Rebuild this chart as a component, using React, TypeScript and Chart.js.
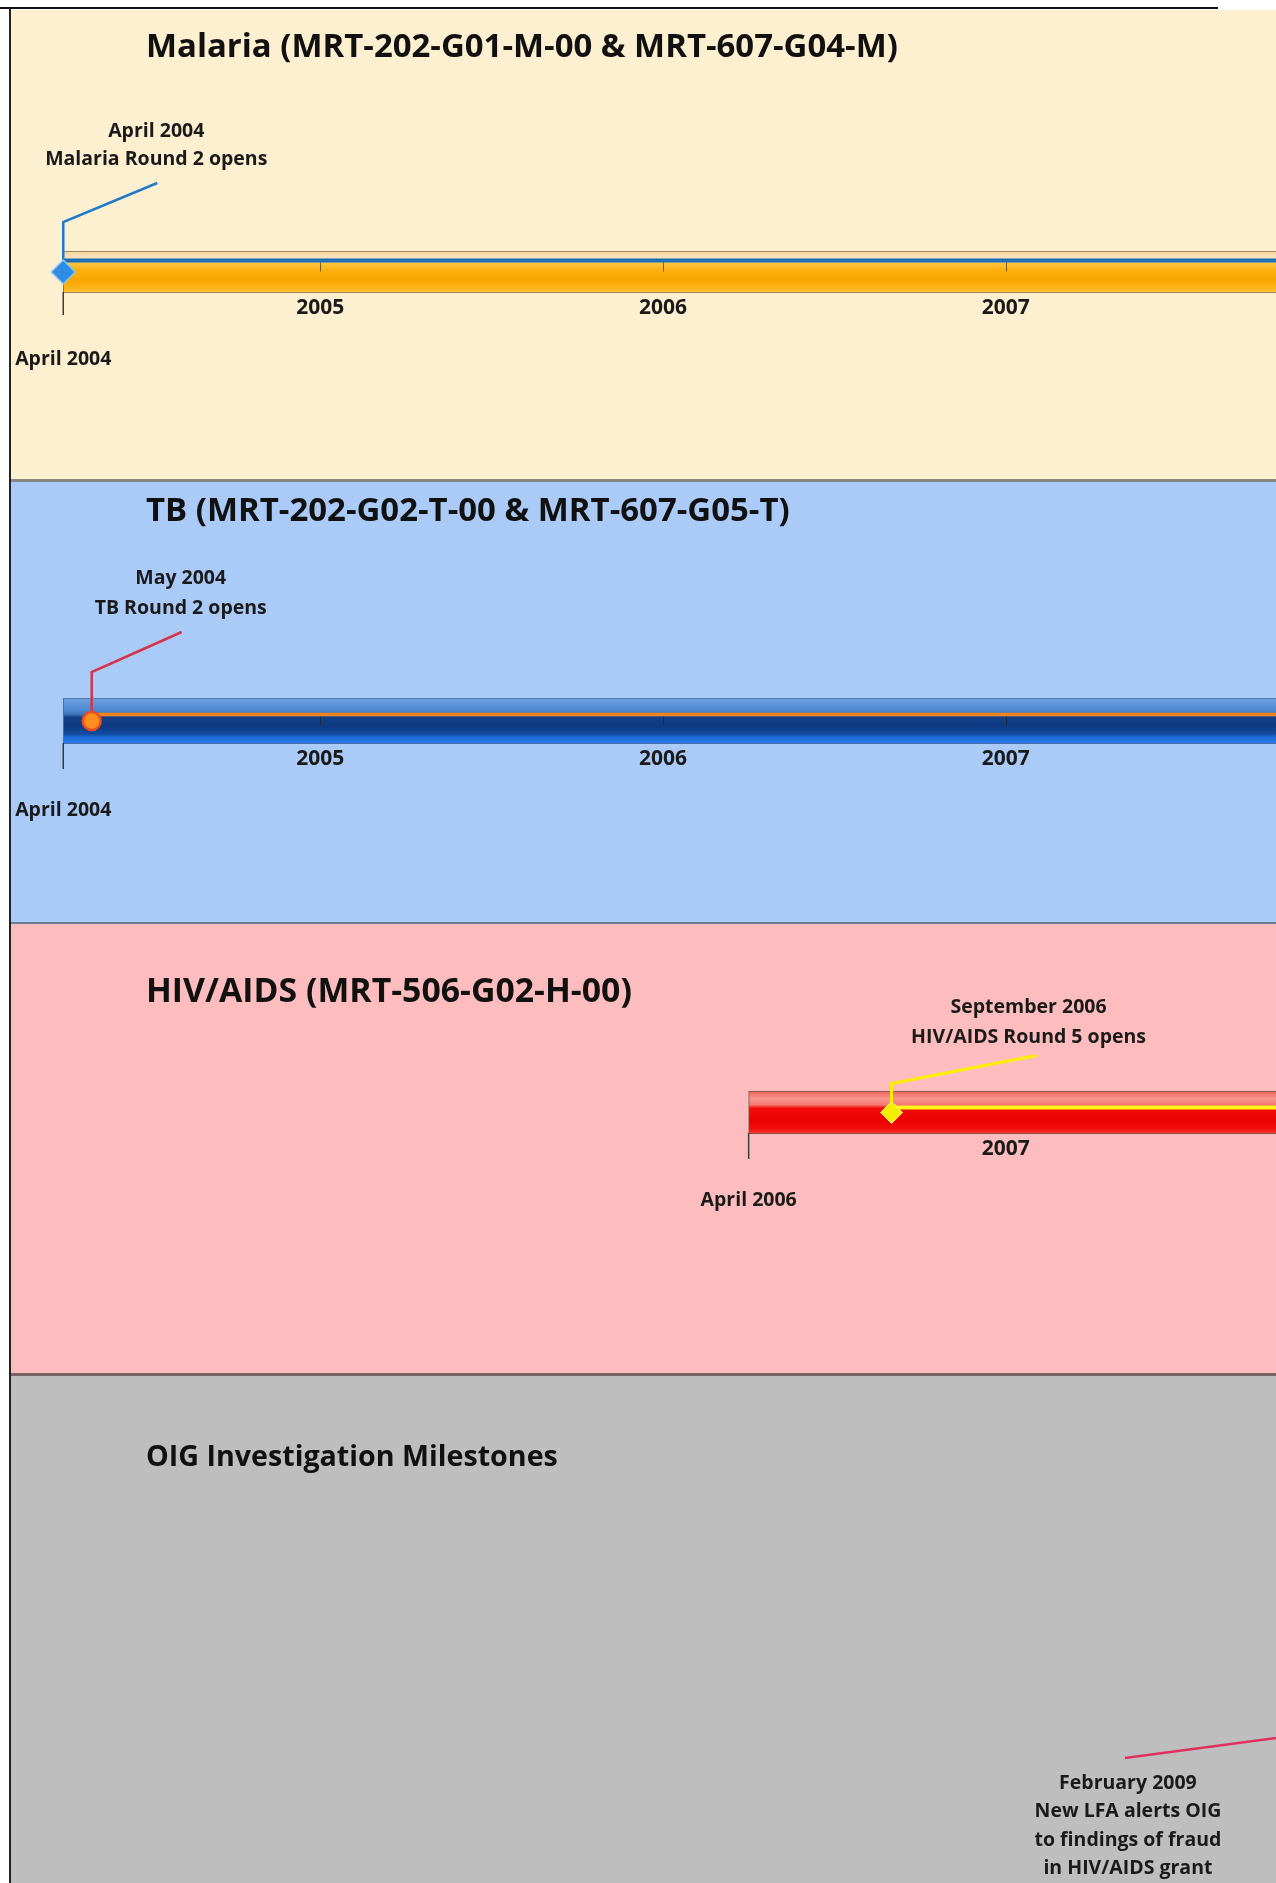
import React, { useEffect, useRef } from "react";
import { Chart, registerables } from "chart.js";

Chart.register(...registerables);

// ---------------- data ----------------
const programNames = [
  "Malaria (MRT-202-G01-M-00 & MRT-607-G04-M)",
  "TB (MRT-202-G02-T-00 & MRT-607-G05-T)",
  "HIV/AIDS (MRT-506-G02-H-00)",
  "OIG Investigation Milestones",
];
// grant periods in decimal years (end lies beyond the visible window)
const grantStarts = [2004.25, 2004.25, 2006.25, 2009.083];
const grantEnds = [2010.0, 2010.0, 2010.0, 2010.0];
const startLabels = ["April 2004", "April 2004", "April 2006", ""];
const milestoneDates = [2004.25, 2004.333, 2006.667, 2009.083];
const milestoneTexts = [
  ["April 2004", "Malaria Round 2 opens"],
  ["May 2004", "TB Round 2 opens"],
  ["September 2006", "HIV/AIDS Round 5 opens"],
  ["February 2009", "New LFA alerts OIG", "to findings of fraud", "in HIV/AIDS grant"],
];
const yearTicks = [2005, 2006, 2007];
const axisMin = 2004.0654;
const axisMax = 2007.7888;

// ---------------- layout & styles ----------------
const PAGE_W = 1276;
const PAGE_H = 1883;
const FONT = "'Open Sans', 'DejaVu Sans', sans-serif";
const TEXT_COLOR = "#1a1a1a";

type Panel = {
  top: number; height: number; bg: string; barTop: number; barBottom: number;
  stops: [number, string][]; barBorder: string;
  lineOffset: number; lineColor: string; lineWidth: number; innerTicks: boolean;
  leaderColor: string; leaderWidth: number; elbowDy: number; endDx: number; endDy: number;
  textDx: number; textDy: number; lineH: number;
  marker: { style: string; radius: number; bg: string; border: string; bw: number };
  titleY: number; titleW: number; startTickLen: number;
};

const PANELS: Panel[] = [
  {
    top: 10, height: 469, bg: "#FDF0D1", barTop: 251, barBottom: 293,
    stops: [[0, "#F3D3A0"], [0.16, "#FAE3BA"], [0.22, "#F5D7A5"], [0.28, "#FFC744"], [0.45, "#FBB111"], [0.7, "#F8A600"], [0.9, "#FDB51C"], [1, "#FFC84A"]],
    barBorder: "#8B6B4B", lineOffset: 9.5, lineColor: "#1B6FB9", lineWidth: 4, innerTicks: true,
    leaderColor: "#1E7BC9", leaderWidth: 2.5, elbowDy: -50, endDx: 94, endDy: -89,
    textDx: -1, textDy: -52, lineH: 28,
    marker: { style: "rectRot", radius: 12, bg: "#2D8DE4", border: "#8CC8F6", bw: 1.5 },
    titleY: 48, titleW: 752, startTickLen: 22,
  },
  {
    top: 482, height: 440, bg: "#AACBF8", barTop: 698, barBottom: 744,
    stops: [[0, "#6FA3E2"], [0.28, "#4D86CF"], [0.36, "#3A6FB6"], [0.42, "#123F86"], [0.62, "#0C3A82"], [0.78, "#124C9E"], [0.86, "#1F6BDD"], [1, "#2C7AE6"]],
    barBorder: "#4A6E9E", lineOffset: 16.5, lineColor: "#F0841E", lineWidth: 3.5, innerTicks: true,
    leaderColor: "#D6334A", leaderWidth: 2.5, elbowDy: -49, endDx: 90, endDy: -89,
    textDx: -1, textDy: -53.5, lineH: 30,
    marker: { style: "circle", radius: 9, bg: "#FF8E1E", border: "#EE4A22", bw: 2.5 },
    titleY: 512, titleW: 644, startTickLen: 25,
  },
  {
    top: 924, height: 449, bg: "#FDBDBE", barTop: 1091, barBottom: 1134,
    stops: [[0, "#F0605E"], [0.18, "#F7968C"], [0.32, "#F47A72"], [0.4, "#F20A0A"], [0.7, "#EC0000"], [0.88, "#F40E0E"], [1, "#FF3A3A"]],
    barBorder: "#6E5A48", lineOffset: 16.5, lineColor: "#FFF51A", lineWidth: 4, innerTicks: false,
    leaderColor: "#FFEE00", leaderWidth: 3, elbowDy: -29, endDx: 145, endDy: -57,
    textDx: -8, textDy: -48.5, lineH: 30,
    marker: { style: "rectRot", radius: 11, bg: "#F6EE00", border: "#FFFF80", bw: 1 },
    titleY: 992, titleW: 486, startTickLen: 25,
  },
  {
    top: 1376, height: 507, bg: "#BEBEBE", barTop: 1610, barBottom: 1650,
    stops: [[0, "#9A9A9A"], [1, "#7A7A7A"]],
    barBorder: "#555555", lineOffset: 14, lineColor: "#E2336A", lineWidth: 3, innerTicks: false,
    leaderColor: "#E0305E", leaderWidth: 2.5, elbowDy: 49, endDx: -594.6, endDy: 128,
    textDx: 3, textDy: 25, lineH: 28.5,
    marker: { style: "rectRot", radius: 10, bg: "#E2336A", border: "#E2336A", bw: 1 },
    titleY: 1458, titleW: 412, startTickLen: 0,
  },
];

const SEPARATORS = [
  { top: 479, height: 3, color: "#878787" },
  { top: 922, height: 2, color: "#6D7C96" },
  { top: 1373, height: 3, color: "#7B6464" },
];

const LABEL_SIZE = 19.5;
const TICK_SIZE = 21;

function makeDecor(idx: number) {
  const s = PANELS[idx];
  return {
    id: "decor" + idx,
    afterLayout(chart: any) {
      // give the zero-height x axis room so its tick labels are not clipped
      const xs = chart.scales.x;
      xs.bottom = xs.top + 60;
      xs.height = 60;
    },
    afterDatasetDraw(chart: any, args: any) {
      if (args.index !== 0) return;
      const ctx = chart.ctx;
      const area = chart.chartArea;
      const pt = chart.getDatasetMeta(1).data[0];
      if (!pt) return;
      const mx = pt.x;
      const my = pt.y;
      const ly = area.top + s.lineOffset;
      ctx.save();
      if (s.innerTicks) {
        ctx.strokeStyle = "rgba(40,30,20,0.6)";
        ctx.lineWidth = 1;
        chart.scales.x.ticks.forEach((t: any) => {
          const tx = Math.round(chart.scales.x.getPixelForValue(t.value)) + 0.5;
          ctx.beginPath();
          ctx.moveTo(tx, ly);
          ctx.lineTo(tx, ly + 11);
          ctx.stroke();
        });
      }
      // round line from milestone to the right
      ctx.strokeStyle = s.lineColor;
      ctx.lineWidth = s.lineWidth;
      ctx.beginPath();
      ctx.moveTo(mx, ly);
      ctx.lineTo(area.right + 50, ly);
      ctx.stroke();
      // leader line
      ctx.strokeStyle = s.leaderColor;
      ctx.lineWidth = s.leaderWidth;
      ctx.lineJoin = "miter";
      ctx.beginPath();
      ctx.moveTo(mx, my);
      ctx.lineTo(mx, my + s.elbowDy);
      ctx.lineTo(mx + s.endDx, my + s.endDy);
      ctx.stroke();
      ctx.restore();
    },
    afterDatasetsDraw(chart: any) {
      const ctx = chart.ctx;
      const area = chart.chartArea;
      const xs = chart.scales.x;
      const pt = chart.getDatasetMeta(1).data[0];
      ctx.save();
      ctx.fillStyle = TEXT_COLOR;
      // start tick + start label
      const sx = xs.getPixelForValue(grantStarts[idx]);
      if (sx >= area.left && sx <= area.right && s.startTickLen > 0) {
        ctx.strokeStyle = "#3a3a3a";
        ctx.lineWidth = 1.5;
        ctx.beginPath();
        ctx.moveTo(sx, area.bottom - 1);
        ctx.lineTo(sx, area.bottom + s.startTickLen);
        ctx.stroke();
        ctx.font = `bold ${LABEL_SIZE}px ${FONT}`;
        ctx.textAlign = "center";
        ctx.textBaseline = "middle";
        ctx.fillText(startLabels[idx], sx, area.bottom + 66);
      }
      // milestone texts
      if (pt) {
        const cx = pt.x + s.endDx + s.textDx;
        const cy = pt.y + s.endDy + s.textDy;
        ctx.font = `bold ${LABEL_SIZE}px ${FONT}`;
        ctx.textAlign = "center";
        ctx.textBaseline = "middle";
        milestoneTexts[idx].forEach((line, i) => ctx.fillText(line, cx, cy + i * s.lineH));
      }
      // panel title (fitted to the reference width)
      const title = programNames[idx];
      ctx.font = `bold 100px ${FONT}`;
      const w = ctx.measureText(title).width;
      const size = (100 * s.titleW) / w;
      ctx.font = `bold ${size.toFixed(2)}px ${FONT}`;
      ctx.textAlign = "left";
      ctx.textBaseline = "middle";
      ctx.fillStyle = "#111111";
      ctx.fillText(title, 146, s.titleY - s.top);
      ctx.restore();
    },
  };
}

function TimelineChart({ idx }: { idx: number }) {
  const ref = useRef<HTMLCanvasElement | null>(null);
  const s = PANELS[idx];
  useEffect(() => {
    const canvas = ref.current;
    if (!canvas) return;
    const chart = new Chart(canvas, {
      type: "bar",
      data: {
        labels: [programNames[idx]],
        datasets: [
          {
            type: "bar",
            data: [[grantStarts[idx], grantEnds[idx]]] as any,
            backgroundColor: (c: any) => {
              const area = c.chart.chartArea;
              if (!area) return s.stops[s.stops.length - 1][1];
              const g = c.chart.ctx.createLinearGradient(0, area.top, 0, area.bottom);
              s.stops.forEach(([o, col]) => g.addColorStop(o, col));
              return g;
            },
            borderColor: s.barBorder,
            borderWidth: 1,
            borderSkipped: false,
            barPercentage: 1,
            categoryPercentage: 1,
            order: 2,
          } as any,
          {
            type: "line",
            data: [{ x: milestoneDates[idx], y: programNames[idx] }] as any,
            showLine: false,
            pointStyle: s.marker.style as any,
            pointRadius: s.marker.radius,
            pointHoverRadius: s.marker.radius,
            pointBackgroundColor: s.marker.bg,
            pointBorderColor: s.marker.border,
            pointBorderWidth: s.marker.bw,
            clip: false as any,
            order: 1,
          } as any,
        ],
      },
      options: {
        responsive: false,
        animation: false,
        events: [],
        indexAxis: "y",
        layout: {
          autoPadding: false,
          padding: {
            top: s.barTop - s.top,
            bottom: s.top + s.height - s.barBottom,
            left: 0,
            right: 0,
          },
        },
        scales: {
          x: {
            type: "linear",
            min: axisMin,
            max: axisMax,
            position: "bottom",
            grid: { display: false },
            border: { display: false },
            ticks: {
              padding: -6,
              color: TEXT_COLOR,
              autoSkip: false,
              maxRotation: 0,
              font: { family: FONT, weight: "bold", size: TICK_SIZE },
              callback: (v: any) => String(v),
            },
            afterBuildTicks: (scale: any) => {
              scale.ticks = yearTicks
                .filter((v) => v >= grantStarts[idx] && v <= axisMax)
                .map((v) => ({ value: v }));
            },
            afterFit: (scale: any) => {
              scale.height = 0;
              scale.paddingLeft = 0;
              scale.paddingRight = 0;
            },
          },
          y: { type: "category", display: false },
        },
        plugins: {
          legend: { display: false },
          tooltip: { enabled: false },
          title: { display: false },
        },
      } as any,
      plugins: [makeDecor(idx)],
    });
    return () => chart.destroy();
  }, [idx]);
  return (
    <canvas
      ref={ref}
      width={PAGE_W}
      height={s.height}
      style={{ position: "absolute", left: 0, top: s.top, width: PAGE_W, height: s.height }}
    />
  );
}

export default function App() {
  return (
    <div
      style={{
        position: "absolute",
        left: 0,
        top: 0,
        width: PAGE_W,
        height: PAGE_H,
        overflow: "hidden",
        background: "#ffffff",
      }}
    >
      {PANELS.map((p, i) => (
        <div
          key={"bg" + i}
          style={{ position: "absolute", left: 11, top: p.top, width: PAGE_W - 11, height: p.height, background: p.bg }}
        />
      ))}
      {SEPARATORS.map((sp, i) => (
        <div
          key={"sep" + i}
          style={{ position: "absolute", left: 11, top: sp.top, width: PAGE_W - 11, height: sp.height, background: sp.color }}
        />
      ))}
      {PANELS.map((_, i) => (
        <TimelineChart key={"chart" + i} idx={i} />
      ))}
      <div style={{ position: "absolute", left: 0, top: 7, width: 1218, height: 2, background: "#111111" }} />
      <div style={{ position: "absolute", left: 9, top: 8, width: 2, height: PAGE_H - 8, background: "#222222" }} />
    </div>
  );
}
